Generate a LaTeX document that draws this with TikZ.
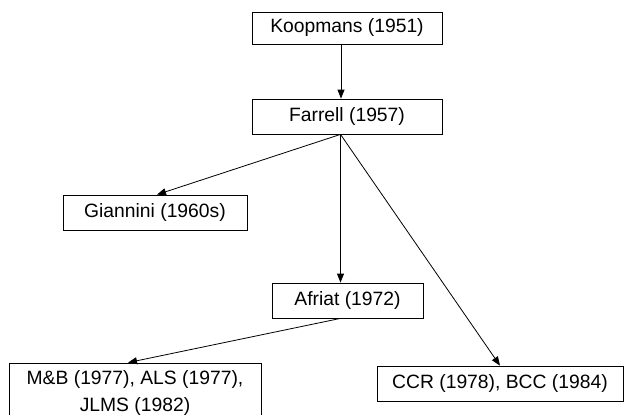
\documentclass[tikz,border=0pt]{standalone}
\usepackage{fontspec}
\setmainfont{Liberation Sans}
\usetikzlibrary{arrows.meta,calc}
\begin{document}
\begin{tikzpicture}[x=1pt,y=-1pt,
  box/.style={draw, line width=0.8pt, inner sep=0pt, align=center,
    font=\fontsize{19.3}{27}\selectfont},
  link/.style={line width=0.8pt, -{Triangle[length=9pt,width=7pt]}}]
\clip (0,0) rectangle (624,415);
\useasboundingbox (0,0) rectangle (624,415);
\node[box, minimum width=190, minimum height=32] (koop) at (347,28) {Koopmans (1951)};
\node[box, minimum width=190, minimum height=35] (farrell) at (347,116.5) {Farrell (1957)};
\node[box, minimum width=184, minimum height=35] (gian) at (155,212.5) {Giannini (1960s)};
\node[box, minimum width=151, minimum height=35] (afriat) at (347.5,300.5) {Afriat (1972)};
\node[box, minimum width=252, minimum height=61] (mb) at (135,393.5) {M\&B (1977), ALS (1977),\\JLMS (1982)};
\node[box, minimum width=246, minimum height=35] (ccr) at (500,383.5) {CCR (1978), BCC (1984)};
\coordinate (fo) at ($(farrell.south)+(-6.5,0)$);
\coordinate (ko) at ($(koop.south)+(-6,0)$);
\coordinate (ao) at ($(afriat.south)+(-7,0)$);
\draw[link] (ko) -- (ko |- farrell.north);
\draw[link] (fo) -- ($(gian.north)+(2,0)$);
\draw[link] (fo) -- (fo |- afriat.north);
\draw[link] (fo) -- (ccr.north);
\draw[link] (ao) -- ($(mb.north)+(-7,0)$);
\end{tikzpicture}
\end{document}
